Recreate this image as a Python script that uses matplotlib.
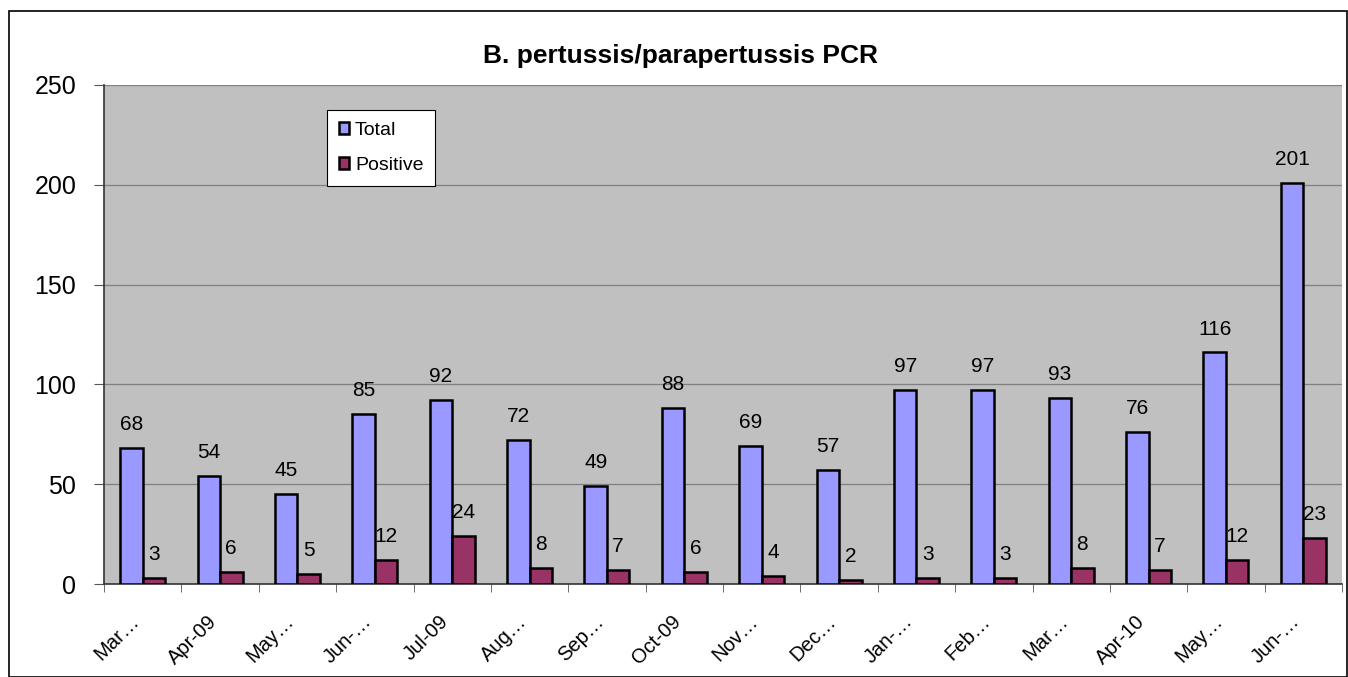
import numpy as np
import matplotlib.pyplot as plt
import matplotlib.transforms as mtransforms
from matplotlib.patches import Rectangle

plt.rcParams['font.family'] = ['Liberation Sans', 'DejaVu Sans']

# Data
months = ['Mar…', 'Apr-09', 'May…', 'Jun-…', 'Jul-09', 'Aug…', 'Sep…', 'Oct-09',
          'Nov…', 'Dec…', 'Jan-…', 'Feb…', 'Mar…', 'Apr-10', 'May…', 'Jun-…']
total = [68, 54, 45, 85, 92, 72, 49, 88, 69, 57, 97, 97, 93, 76, 116, 201]
positive = [3, 6, 5, 12, 24, 8, 7, 6, 4, 2, 3, 3, 8, 7, 12, 23]

fig = plt.figure(figsize=(13.48, 6.77), dpi=100)
ax = fig.add_axes([104/1348, 1-584/677, 1238/1348, 499/677])

# outer chart border
fig.patches.append(Rectangle((9/1348, 0), 1338/1348, 1-11/677, transform=fig.transFigure,
                             fill=False, ec='black', lw=1.2))

x = np.arange(len(months))
w = 0.29
b1 = ax.bar(x - w/2, total, w, color='#9999FF', edgecolor='black', lw=1.8, label='Total', zorder=3)
b2 = ax.bar(x + w/2, positive, w, color='#993366', edgecolor='black', lw=1.8, label='Positive', zorder=3)

for bars, vals in [(b1, total), (b2, positive)]:
    for rect, v in zip(bars, vals):
        ax.annotate(str(v), (rect.get_x() + rect.get_width()/2, v), xytext=(0, 10),
                    textcoords='offset points', ha='center', va='bottom', fontsize=15)

ax.set_xlim(-0.5, len(months) - 0.5)
ax.set_ylim(0, 250)
ax.set_yticks([0, 50, 100, 150, 200, 250])
ax.set_facecolor('#C0C0C0')
ax.grid(axis='y', color='#808080', lw=0.9, zorder=1)
for s in ['top', 'right']:
    ax.spines[s].set_visible(False)
for s in ['left', 'bottom']:
    ax.spines[s].set_linewidth(1.2)
    ax.spines[s].set_color('#333333')

ax.set_xticks(x)
ax.set_xticklabels(months, rotation=45, ha='right', va='top', rotation_mode='anchor', fontsize=14.5)
ax.tick_params(axis='x', length=0, pad=20)
shift = mtransforms.ScaledTranslation(-0.13, 0, fig.dpi_scale_trans)
for lab in ax.get_xticklabels():
    lab.set_transform(lab.get_transform() + shift)
ax.set_xticks(np.arange(len(months) + 1) - 0.5, minor=True)
ax.tick_params(axis='x', which='minor', length=6, color='#555555')
ax.tick_params(axis='y', labelsize=18, length=7, color='#555555', pad=13)

# title is centred on the whole chart, not on the plot area
ax.set_title('B. pertussis/parapertussis PCR', fontsize=19, fontweight='bold', pad=16, x=0.466)

leg = ax.legend(loc='upper left', bbox_to_anchor=(0.18, 0.95), fontsize=14, frameon=True,
                fancybox=False, edgecolor='black', framealpha=1, handlelength=0.55,
                handleheight=0.55, handletextpad=0.3, labelspacing=0.95, borderpad=0.6,
                borderaxespad=0)
leg.get_frame().set_linewidth(0.8)

fig.savefig('out.png', dpi=100)
